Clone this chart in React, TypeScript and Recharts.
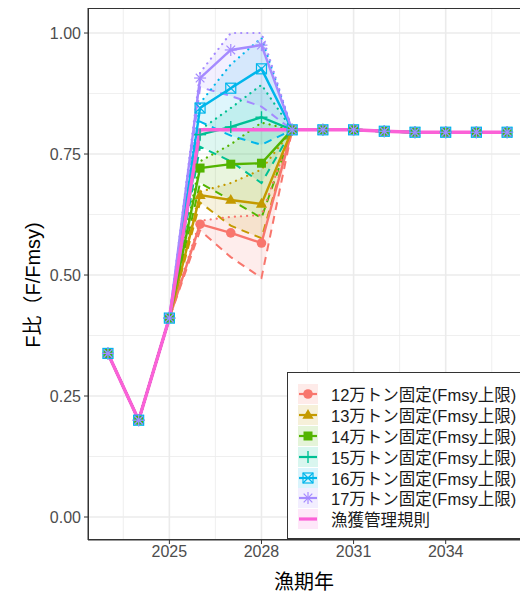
import React from "react";
import { ComposedChart, Line, Area, XAxis, YAxis, CartesianGrid } from "recharts";

const years = [2023, 2024, 2025, 2026, 2027, 2028, 2029, 2030, 2031, 2032, 2033, 2034, 2035, 2036];

// 漁獲管理規則
const rule = [0.338, 0.2, 0.411, 0.8, 0.8, 0.8, 0.8, 0.8, 0.8, 0.797, 0.795, 0.795, 0.795, 0.795];

// 固定漁獲量シナリオ: mean / lower (dashed) / upper (dotted)
const mean12 = [0.338, 0.2, 0.411, 0.605, 0.587, 0.566, 0.8, 0.8, 0.8, 0.797, 0.795, 0.795, 0.795, 0.795];
const lo12 = [0.338, 0.2, 0.411, 0.592, 0.537, 0.494, 0.8, 0.8, 0.8, 0.797, 0.795, 0.795, 0.795, 0.795];
const hi12 = [0.338, 0.2, 0.411, 0.612, 0.62, 0.624, 0.8, 0.8, 0.8, 0.797, 0.795, 0.795, 0.795, 0.795];

const mean13 = [0.338, 0.2, 0.411, 0.665, 0.655, 0.647, 0.8, 0.8, 0.8, 0.797, 0.795, 0.795, 0.795, 0.795];
const lo13 = [0.338, 0.2, 0.411, 0.65, 0.602, 0.576, 0.8, 0.8, 0.8, 0.797, 0.795, 0.795, 0.795, 0.795];
const hi13 = [0.338, 0.2, 0.411, 0.672, 0.69, 0.718, 0.8, 0.8, 0.8, 0.797, 0.795, 0.795, 0.795, 0.795];

const mean14 = [0.338, 0.2, 0.411, 0.721, 0.729, 0.731, 0.8, 0.8, 0.8, 0.797, 0.795, 0.795, 0.795, 0.795];
const lo14 = [0.338, 0.2, 0.411, 0.69, 0.655, 0.618, 0.8, 0.8, 0.8, 0.797, 0.795, 0.795, 0.795, 0.795];
const hi14 = [0.338, 0.2, 0.411, 0.735, 0.77, 0.815, 0.8, 0.8, 0.8, 0.797, 0.795, 0.795, 0.795, 0.795];

const mean15 = [0.338, 0.2, 0.411, 0.79, 0.806, 0.826, 0.8, 0.8, 0.8, 0.797, 0.795, 0.795, 0.795, 0.795];
const lo15 = [0.338, 0.2, 0.411, 0.765, 0.735, 0.69, 0.8, 0.8, 0.8, 0.797, 0.795, 0.795, 0.795, 0.795];
const hi15 = [0.338, 0.2, 0.411, 0.8, 0.845, 0.893, 0.8, 0.8, 0.8, 0.797, 0.795, 0.795, 0.795, 0.795];

const mean16 = [0.338, 0.2, 0.411, 0.845, 0.886, 0.926, 0.8, 0.8, 0.8, 0.797, 0.795, 0.795, 0.795, 0.795];
const lo16 = [0.338, 0.2, 0.411, 0.817, 0.788, 0.769, 0.8, 0.8, 0.8, 0.797, 0.795, 0.795, 0.795, 0.795];
const hi16 = [0.338, 0.2, 0.411, 0.855, 0.935, 0.99, 0.8, 0.8, 0.8, 0.797, 0.795, 0.795, 0.795, 0.795];

const mean17 = [0.338, 0.2, 0.411, 0.907, 0.965, 0.975, 0.8, 0.8, 0.8, 0.797, 0.795, 0.795, 0.795, 0.795];
const lo17 = [0.338, 0.2, 0.411, 0.888, 0.87, 0.848, 0.8, 0.8, 0.8, 0.797, 0.795, 0.795, 0.795, 0.795];
const hi17 = [0.338, 0.2, 0.411, 0.918, 1.0, 1.0, 0.8, 0.8, 0.8, 0.797, 0.795, 0.795, 0.795, 0.795];

const xTicks = [2025, 2028, 2031, 2034];
const xMinor = [2023.5, 2026.5, 2029.5, 2032.5, 2035.5];
const yTicks = [0, 0.25, 0.5, 0.75, 1.0];
const yMinor = [0.125, 0.375, 0.625, 0.875];

type Shape = "circle" | "triangle" | "square" | "plus" | "boxx" | "star";

const scenarios = [
  { id: "12", label: "12万トン固定(Fmsy上限)", color: "#F8766D", shape: "circle" as Shape, mean: mean12, lo: lo12, hi: hi12 },
  { id: "13", label: "13万トン固定(Fmsy上限)", color: "#C49A00", shape: "triangle" as Shape, mean: mean13, lo: lo13, hi: hi13 },
  { id: "14", label: "14万トン固定(Fmsy上限)", color: "#53B400", shape: "square" as Shape, mean: mean14, lo: lo14, hi: hi14 },
  { id: "15", label: "15万トン固定(Fmsy上限)", color: "#00C094", shape: "plus" as Shape, mean: mean15, lo: lo15, hi: hi15 },
  { id: "16", label: "16万トン固定(Fmsy上限)", color: "#00B6EB", shape: "boxx" as Shape, mean: mean16, lo: lo16, hi: hi16 },
  { id: "17", label: "17万トン固定(Fmsy上限)", color: "#A58AFF", shape: "star" as Shape, mean: mean17, lo: lo17, hi: hi17 },
];
const RULE_COLOR = "#FB61D7";
const RULE_LABEL = "漁獲管理規則";

const data = years.map((year, i) => {
  const row: Record<string, any> = { year, rule: rule[i] };
  scenarios.forEach((s) => {
    row["m" + s.id] = s.mean[i];
    row["lo" + s.id] = s.lo[i];
    row["hi" + s.id] = s.hi[i];
    row["rg" + s.id] = [s.lo[i], s.hi[i]];
  });
  return row;
});

function Marker({ cx, cy, shape, color }: { cx: number; cy: number; shape: Shape; color: string }) {
  if (cx == null || cy == null) return null;
  switch (shape) {
    case "circle":
      return <circle cx={cx} cy={cy} r={4.8} fill={color} />;
    case "triangle":
      return <path d={`M${cx},${cy - 6} L${cx + 5.6},${cy + 3.8} L${cx - 5.6},${cy + 3.8} Z`} fill={color} />;
    case "square":
      return <rect x={cx - 4.5} y={cy - 4.5} width={9} height={9} fill={color} />;
    case "plus":
      return (
        <g stroke={color} strokeWidth={1.4}>
          <line x1={cx - 6} y1={cy} x2={cx + 6} y2={cy} />
          <line x1={cx} y1={cy - 6} x2={cx} y2={cy + 6} />
        </g>
      );
    case "boxx":
      return (
        <g stroke={color} strokeWidth={1.2} fill="none">
          <rect x={cx - 5} y={cy - 5} width={10} height={10} />
          <line x1={cx - 5} y1={cy - 5} x2={cx + 5} y2={cy + 5} />
          <line x1={cx - 5} y1={cy + 5} x2={cx + 5} y2={cy - 5} />
        </g>
      );
    case "star":
      return (
        <g stroke={color} strokeWidth={1.2}>
          <line x1={cx - 6} y1={cy} x2={cx + 6} y2={cy} />
          <line x1={cx} y1={cy - 6} x2={cx} y2={cy + 6} />
          <line x1={cx - 4.3} y1={cy - 4.3} x2={cx + 4.3} y2={cy + 4.3} />
          <line x1={cx - 4.3} y1={cy + 4.3} x2={cx + 4.3} y2={cy - 4.3} />
        </g>
      );
  }
  return null;
}

const FONT = "'Liberation Sans', Arial, 'Noto Sans CJK JP', sans-serif";

function hexA(hex: string, a: number) {
  const n = parseInt(hex.slice(1), 16);
  return `rgba(${(n >> 16) & 255},${(n >> 8) & 255},${n & 255},${a})`;
}

function LegendBox() {
  const rows = [
    ...scenarios.map((s) => ({ label: s.label, color: s.color, shape: s.shape as Shape | null })),
    { label: RULE_LABEL, color: RULE_COLOR, shape: null as Shape | null },
  ];
  return (
    <div
      style={{
        position: "absolute",
        left: 287,
        top: 372,
        width: 250,
        height: 167,
        border: "1px solid #333",
        background: "#fff",
        boxSizing: "border-box",
        paddingTop: 11,
        paddingLeft: 10,
        fontFamily: FONT,
      }}
    >
      {rows.map((r) => (
        <div key={r.label} style={{ display: "flex", alignItems: "center", height: 20.8 }}>
          <svg width={20} height={20} style={{ flex: "none" }}>
            <rect x={0} y={0} width={20} height={20} fill={hexA(r.color, 0.15)} />
            <line x1={1} y1={10} x2={19} y2={10} stroke={r.color} strokeWidth={r.shape ? 2.2 : 3.2} />
            {r.shape && <Marker cx={10} cy={10} shape={r.shape} color={r.color} />}
          </svg>
          <span style={{ marginLeft: 13, fontSize: 16.5, color: "#1a1a1a", whiteSpace: "nowrap" }}>{r.label}</span>
        </div>
      ))}
    </div>
  );
}

export default function App() {
  return (
    <div style={{ position: "absolute", left: 0, top: 0, width: 520, height: 594, overflow: "hidden", background: "#fff" }}>
      <ComposedChart width={520} height={594} data={data} margin={{ top: 8, right: 0, bottom: 0, left: 0 }}>
        <CartesianGrid stroke="#EBEBEB" strokeWidth={0.8} verticalValues={xMinor} horizontalValues={yMinor} />
        <CartesianGrid stroke="#EBEBEB" strokeWidth={1.6} verticalValues={xTicks} horizontalValues={yTicks} />
        <XAxis
          dataKey="year"
          type="number"
          domain={[2022.35, 2036.42]}
          ticks={xTicks}
          allowDataOverflow
          height={54}
          tickSize={4}
          tickMargin={2}
          tick={{ fill: "#4D4D4D", fontSize: 16, fontFamily: FONT }}
          tickLine={{ stroke: "#333" }}
          axisLine={{ stroke: "#333" }}
        />
        <YAxis
          type="number"
          domain={[-0.0475, 1.0517]}
          ticks={yTicks}
          allowDataOverflow
          width={88}
          tickSize={4}
          tickMargin={3}
          tickFormatter={(v: number) => v.toFixed(2)}
          tick={{ fill: "#4D4D4D", fontSize: 16, fontFamily: FONT }}
          tickLine={{ stroke: "#333" }}
          axisLine={{ stroke: "#333" }}
        />

        {scenarios.map((s) => (
          <Area
            key={"rg" + s.id}
            type="linear"
            dataKey={"rg" + s.id}
            stroke="none"
            fill={s.color}
            fillOpacity={0.13}
            dot={false}
            activeDot={false}
            isAnimationActive={false}
          />
        ))}
        {scenarios.map((s) => (
          <Line
            key={"lo" + s.id}
            type="linear"
            dataKey={"lo" + s.id}
            stroke={s.color}
            strokeWidth={2}
            strokeDasharray="8 6"
            dot={false}
            activeDot={false}
            isAnimationActive={false}
          />
        ))}
        {scenarios.map((s) => (
          <Line
            key={"hi" + s.id}
            type="linear"
            dataKey={"hi" + s.id}
            stroke={s.color}
            strokeWidth={2.2}
            strokeDasharray="0.1 6"
            strokeLinecap="round"
            dot={false}
            activeDot={false}
            isAnimationActive={false}
          />
        ))}
        {scenarios.map((s) => (
          <Line
            key={"m" + s.id}
            type="linear"
            dataKey={"m" + s.id}
            stroke={s.color}
            strokeWidth={2.4}
            dot={false}
            activeDot={false}
            isAnimationActive={false}
          />
        ))}
        <Line
          type="linear"
          dataKey="rule"
          stroke={RULE_COLOR}
          strokeWidth={3.4}
          dot={false}
          activeDot={false}
          isAnimationActive={false}
        />
        {scenarios.map((s) => (
          <Line
            key={"pt" + s.id}
            type="linear"
            dataKey={"m" + s.id}
            stroke="transparent"
            strokeWidth={0}
            dot={(p: any) => (
              <Marker key={`mk${s.id}-${p.index}`} cx={p.cx} cy={p.cy} shape={s.shape} color={s.color} />
            )}
            activeDot={false}
            isAnimationActive={false}
          />
        ))}
      </ComposedChart>

      {/* panel border (theme_bw) */}
      <div
        style={{
          position: "absolute",
          left: 88,
          top: 8,
          width: 440,
          height: 532,
          border: "1px solid #333",
          boxSizing: "border-box",
          pointerEvents: "none",
        }}
      />

      <div
        style={{
          position: "absolute",
          left: 31,
          top: 285,
          transform: "translate(-50%, -50%) rotate(-90deg)",
          fontFamily: FONT,
          fontSize: 20,
          color: "#000",
          whiteSpace: "nowrap",
        }}
      >
        F比（F/Fmsy)
      </div>
      <div
        style={{
          position: "absolute",
          left: 304,
          top: 580,
          transform: "translate(-50%, -50%)",
          fontFamily: FONT,
          fontSize: 20,
          color: "#000",
          whiteSpace: "nowrap",
        }}
      >
        漁期年
      </div>

      <LegendBox />
    </div>
  );
}
